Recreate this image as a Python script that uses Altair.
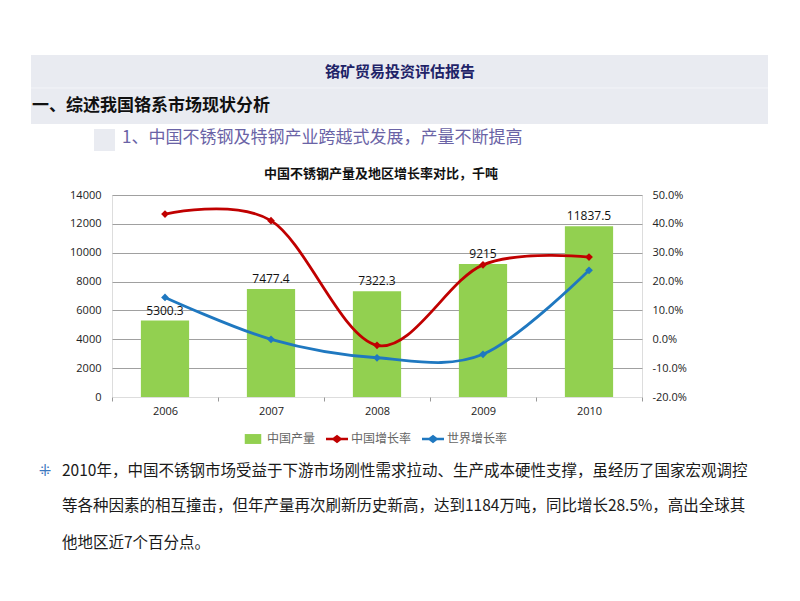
import altair as alt
import pandas as pd

# ---- data ----
years = ["2006", "2007", "2008", "2009", "2010"]
production = [5300.3, 7477.4, 7322.3, 9215, 11837.5]
china_growth = [0.434, 0.411, -0.021, 0.258, 0.285]
world_growth = [0.145, 0.0, -0.064, -0.052, 0.239]
series_names = ["中国产量", "中国增长率", "世界增长率"]
series_colors = ["#92D050", "#C00000", "#1F78C0"]
left_ticks = [0, 2000, 4000, 6000, 8000, 10000, 12000, 14000]
right_ticks = [-0.2, -0.1, 0, 0.1, 0.2, 0.3, 0.4, 0.5]

page_title = "铬矿贸易投资评估报告"
section_title = "一、综述我国铬系市场现状分析"
sub_title = "1、中国不锈钢及特钢产业跨越式发展，产量不断提高"
chart_title = "中国不锈钢产量及地区增长率对比，千吨"
para_lines = [
    "2010年，中国不锈钢市场受益于下游市场刚性需求拉动、生产成本硬性支撑，虽经历了国家宏观调控",
    "等各种因素的相互撞击，但年产量再次刷新历史新高，达到1184万吨，同比增长28.5%，高出全球其",
    "他地区近7个百分点。",
]

bar_df = pd.DataFrame({"year": years, "value": production, "series": series_names[0]})
line_df = pd.concat([
    pd.DataFrame({"year": years, "rate": china_growth, "series": series_names[1]}),
    pd.DataFrame({"year": years, "rate": world_growth, "series": series_names[2]}),
])

FONT = "Noto Sans CJK SC"
NUMFONT = "Open Sans"

color_scale = alt.Scale(domain=series_names, range=series_colors)
legend = alt.Legend(
    orient="none", legendX=130, legendY=233, direction="horizontal", title=None,
    symbolSize=484, labelFont=FONT, labelFontSize=12, labelColor="#666666",
    columnPadding=10, labelOffset=3, symbolStrokeWidth=0,
    symbolType=alt.ExprRef("datum.value === '中国产量' ? 'M-0.75,-0.45H0.75V0.45H-0.75Z' : 'M-1,-0.11H-0.36L0,-0.38L0.36,-0.11H1V0.11H0.36L0,0.38L-0.36,0.11H-1Z'"),
    symbolFillColor=alt.ExprRef("scale('color', datum.value)"),
    symbolOpacity=1,
)

x_enc = alt.X("year:N", sort=years, title=None,
              scale=alt.Scale(paddingInner=0, paddingOuter=0),
              axis=alt.Axis(labelAngle=0, domain=False, ticks=True, tickBand="extent",
                            tickSize=4, tickColor="#999999", labelFont=NUMFONT,
                            labelFontSize=11, labelColor="#222222", labelPadding=4,
                            grid=False))

bars = alt.Chart(bar_df).mark_bar(width=alt.RelativeBandSize(0.455)).encode(
    x=x_enc,
    y=alt.Y("value:Q", title=None, scale=alt.Scale(domain=[0, 14000], nice=False),
            axis=alt.Axis(values=left_ticks, tickCount=len(left_ticks), format="d",
                          domain=False, ticks=False,
                          labelOverlap=False, labelFont=NUMFONT, labelFontSize=11,
                          labelColor="#222222", labelPadding=11, grid=True, gridColor="#a0a0a0",
                          gridOpacity=alt.condition("datum.value == 0", alt.value(0), alt.value(1)))),
    color=alt.Color("series:N", scale=color_scale, legend=legend),
)
bar_labels = alt.Chart(bar_df).mark_text(
    font=NUMFONT, fontSize=12, color="#111111", baseline="alphabetic", dy=-6
).encode(x=alt.X("year:N", sort=years), y="value:Q", text=alt.Text("value:Q", format="~f"))

left = alt.layer(bars, bar_labels)

y_right = alt.Y("rate:Q", title=None, scale=alt.Scale(domain=[-0.2, 0.5], nice=False),
                axis=alt.Axis(orient="right", format=".1%", values=right_ticks,
                              tickCount=len(right_ticks),
                              labelExpr="replace(datum.label, '\u2212', '-')",
                              labelOverlap=False, domain=False, ticks=False, grid=False,
                              labelFont=NUMFONT, labelFontSize=11, labelColor="#222222",
                              labelPadding=10))
lines = alt.Chart(line_df).mark_line(interpolate="cardinal", strokeWidth=2.8).encode(
    x=alt.X("year:N", sort=years), y=y_right,
    color=alt.Color("series:N", scale=color_scale, legend=legend),
)
points = alt.Chart(line_df).mark_point(shape="diamond", filled=True, size=60, opacity=1).encode(
    x=alt.X("year:N", sort=years), y=alt.Y("rate:Q"),
    color=alt.Color("series:N", scale=color_scale, legend=legend),
)
right = alt.layer(lines, points)

one = pd.DataFrame({"k": [0]})
band = alt.Chart(one).mark_rect(color="#E9EBF1").encode(
    x=alt.value(-81), x2=alt.value(656), y=alt.value(-140), y2=alt.value(-71))
band_div = alt.Chart(one).mark_rule(color="#F3F4F8", strokeWidth=1).encode(
    x=alt.value(-81), x2=alt.value(656), y=alt.value(-107))
square = alt.Chart(one).mark_rect(color="#E9EBF1").encode(
    x=alt.value(-18), x2=alt.value(3), y=alt.value(-66), y2=alt.value(-44))

t_title = alt.Chart(one).mark_text(text=page_title, font=FONT, fontSize=15, fontWeight="bold",
                                   color="#1F2368", align="center", baseline="middle").encode(
    x=alt.value(288), y=alt.value(-123))
t_section = alt.Chart(one).mark_text(text=section_title, font=FONT, fontSize=17, fontWeight="bold",
                                     color="#111111", align="left", baseline="middle").encode(
    x=alt.value(-80), y=alt.value(-89))
t_sub = alt.Chart(one).mark_text(text=sub_title, font=FONT, fontSize=17, fontWeight="normal",
                                 color="#6A63A6", align="left", baseline="middle").encode(
    x=alt.value(10), y=alt.value(-57))
t_chart = alt.Chart(one).mark_text(text=chart_title, font=FONT, fontSize=13, fontWeight="bold",
                                   color="#111111", align="center", baseline="middle").encode(
    x=alt.value(269), y=alt.value(-21))
bullet = alt.Chart(one).mark_text(text="⁜", font="DejaVu Sans", fontSize=15,
                                  color="#3B78C0", align="center", baseline="middle").encode(
    x=alt.value(-67), y=alt.value(276))
para = [
    alt.Chart(one).mark_text(text=t, font=FONT, fontSize=15.5, color="#1A1A1A",
                             align="left", baseline="middle").encode(
        x=alt.value(-50), y=alt.value(yy))
    for t, yy in zip(para_lines, [276, 311, 348])
]

chart = alt.layer(
    band, band_div, square, t_title, t_section, t_sub, t_chart,
    left, right, bullet, *para
).resolve_scale(y="independent").properties(
    width=530, height=202,
    autosize=alt.AutoSizeParams(type="none"),
    padding={"left": 104, "top": 187, "right": 150, "bottom": 196},
).configure_view(stroke=None).configure(background="white")

chart.save("out.html", embed_options={"renderer": "svg", "actions": False})
